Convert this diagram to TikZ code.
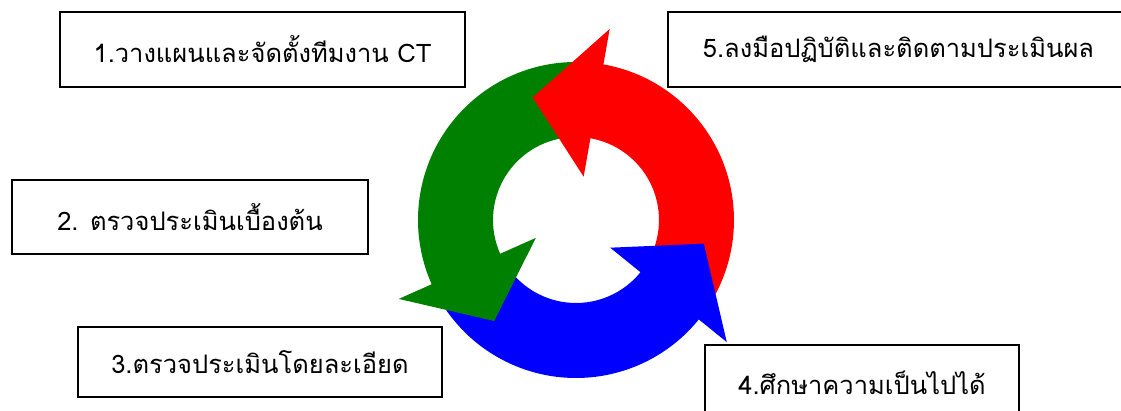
\documentclass[tikz,border=0pt]{standalone}
\usepackage{fontspec}
\newfontfamily\thaifont[Script=Thai]{Loma}
\usepackage{tikz}
\definecolor{cycgreen}{RGB}{0,128,0}
\definecolor{cycred}{RGB}{255,0,0}
\definecolor{cycblue}{RGB}{0,0,255}
\tikzset{
	thick,
	>=latex,
}

\begin{document}
\begin{tikzpicture}
	[x=1pt, y=1pt, font=\thaifont\fontsize{25.5}{30}\selectfont,
		% STYLES
		% The stepbox style frames the name of each step
		stepbox/.style={rectangle, draw, line width=1.5pt, inner sep=0pt},
		% The ring style fills the parts of the cycle
		ring/.style={draw=none}]

	\useasboundingbox (0,0) rectangle (1121,410);
	\clip (0,0) rectangle (1121,410);

	% Draw cycle
	\coordinate (c) at (576,190);
	\foreach \col/\s/\b in {cycred/-30/82, cycgreen/88/206, cycblue/212/323}
	\fill[ring, \col] ([shift={(\s:158)}]c) arc[start angle=\s, end angle=\b, radius=158]
	-- ([shift={(\b:83)}]c) arc[start angle=\b, end angle=\s, radius=83] -- cycle;
	\foreach \col/\b/\t in {cycred/80/109.5, cycgreen/204/231, cycblue/321/349.5}
	\fill[ring, \col] ([shift={(\b:44)}]c) -- ([shift={(\b:194)}]c)
	-- ([shift={(\t:130)}]c) -- cycle;

	% Draw steps
	\node[stepbox, minimum width=405, minimum height=75] (plan) at (262.5,360.5)
	{1.วางแผนและจัดตั้งทีมงาน CT};
	\node[stepbox, minimum width=356, minimum height=74] (prelim) at (190,193)
	{2. ตรวจประเมินเบื้องต้น};
	\node[stepbox, minimum width=364, minimum height=70] (detail) at (260,48)
	{3.ตรวจประเมินโดยละเอียด};
	\node[stepbox, minimum width=314, minimum height=75] (feasible) at (862,27.5)
	{4.ศึกษาความเป็นไปได้};
	\node[stepbox, minimum width=461, minimum height=75] (act) at (898.5,360.5)
	{5.ลงมือปฏิบัติและติดตามประเมินผล};
\end{tikzpicture}
\end{document}
